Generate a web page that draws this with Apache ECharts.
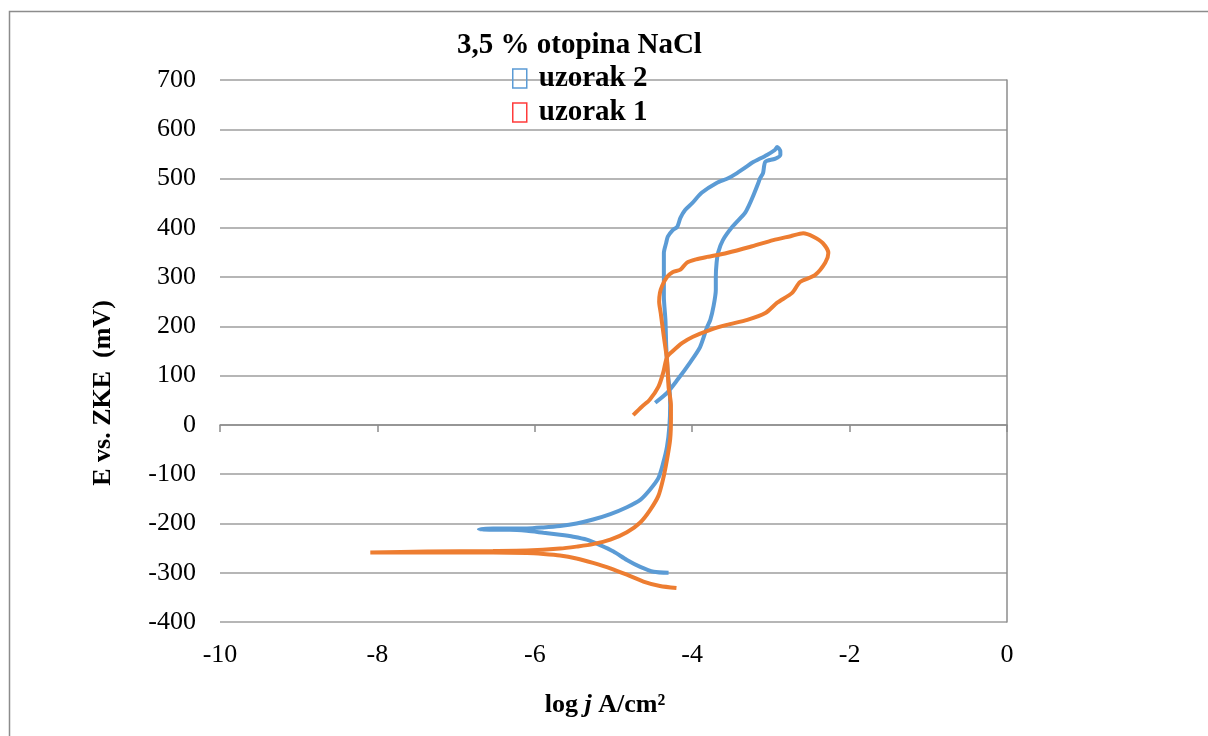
<!DOCTYPE html>
<html>
<head>
<meta charset="utf-8">
<script src="https://cdn.jsdelivr.net/npm/echarts@6/dist/echarts.min.js"></script>
<style>
html,body{margin:0;padding:0;background:#fff;}
#chart{width:1208px;height:736px;}
</style>
</head>
<body>
<div id="chart"></div>
<script>
// ---- data ----
const chartTitle = '3,5 % otopina NaCl';
const seriesNames = ['uzorak 2', 'uzorak 1'];
const xTicks = [-10, -8, -6, -4, -2, 0];
const yTicks = [-400, -300, -200, -100, 0, 100, 200, 300, 400, 500, 600, 700];

// uzorak 2 (blue): log j values
const logJ2 = [-4.30,-4.49,-4.66,-4.83,-5.00,-5.17,-5.34,-5.51,-5.68,-5.89,-6.10,-6.32,-6.53,-6.71,
  -6.53,-6.32,-6.10,-5.89,-5.68,-5.47,-5.26,-5.04,-4.83,-4.66,-4.54,-4.43,-4.37,-4.32,-4.29,
  -4.28,-4.29,-4.31,-4.33,-4.34,-4.36,-4.36,-4.36,-4.36,-4.33,-4.31,-4.25,-4.19,-4.15,-4.09,-4.00,-3.88,-3.69,-3.55,-3.43,-3.30,-3.24,-3.05,-2.95,-2.92,
  -2.88,-2.88,-2.95,-3.07,-3.10,-3.14,-3.16,-3.23,-3.28,-3.33,-3.49,-3.61,-3.67,-3.69,-3.70,-3.70,-3.73,-3.77,-3.81,-3.90,-4.03,-4.19,-4.32,-4.47];
// uzorak 2 (blue): E values (mV)
const E2 = [-300,-298,-288,-274,-257,-244,-233,-227,-223,-219,-215,-213,-213,-212,
  -210,-210,-210,-208,-205,-200,-192,-181,-167,-152,-132,-108,-78,-44,-3,
  40,77,105,160,213,260,294,330,349,370,382,395,402,420,436,450,471,491,500,511,525,532,548,558,564,
  555,548,540,534,511,500,491,463,445,430,402,375,350,329,300,274,240,213,199,158,126,91,65,45];

// uzorak 1 (orange): log j values
const logJ1 = [-4.20,-4.41,-4.62,-4.83,-5.04,-5.26,-5.47,-5.68,-5.89,-6.10,-6.53,-6.95,-7.37,-8.09,
  -7.37,-6.53,-6.10,-5.68,-5.47,-5.26,-5.04,-4.83,-4.66,-4.54,-4.43,-4.37,-4.32,-4.28,-4.27,
  -4.27,-4.30,-4.32,-4.36,-4.40,-4.42,-4.41,-4.38,-4.32,-4.25,-4.15,-4.07,-3.95,-3.81,-3.56,-3.27,-2.97,-2.75,-2.59,
  -2.46,-2.34,-2.27,-2.31,-2.44,-2.63,-2.73,-2.92,-3.07,-3.30,-3.56,-3.77,-3.99,-4.13,-4.26,-4.32,-4.37,-4.43,-4.54,-4.64,-4.75];
// uzorak 1 (orange): E values (mV)
const E1 = [-331,-327,-318,-304,-291,-280,-271,-265,-262,-260,-259,-259,-259,-259,
  -257,-256,-255,-251,-247,-242,-233,-218,-198,-174,-144,-110,-70,-29,12,
  40,77,132,179,227,250,268,283,300,310,315,329,336,341,349,361,375,383,389,
  382,369,349,329,304,290,268,248,227,213,203,193,179,166,148,138,105,77,51,37,20];

const zip = (xs, ys) => xs.map((x, i) => [x, ys[i]]);

const FONT = '"Liberation Serif", "Times New Roman", serif';
const chart = echarts.init(document.getElementById('chart'), null, {renderer: 'canvas'});

chart.setOption({
  animation: false,
  backgroundColor: '#fff',
  title: {
    text: chartTitle,
    left: 457, top: 31, padding: 0,
    textStyle: {fontFamily: FONT, fontWeight: 'bold', fontSize: 29, color: '#000'}
  },
  legend: {
    orient: 'vertical',
    left: 512, top: 64, padding: 0,
    itemWidth: 14, itemHeight: 19,
    itemGap: 5, itemTextGap: 12,
    icon: 'rect',
    textStyle: {fontFamily: FONT, fontWeight: 'bold', fontSize: 29, color: '#000', lineHeight: 29, padding: [0, 0, 0, 7]},
    data: [
      {name: seriesNames[0], itemStyle: {color: 'rgba(0,0,0,0)', borderColor: '#5b9bd5', borderWidth: 1.5}},
      {name: seriesNames[1], itemStyle: {color: 'rgba(0,0,0,0)', borderColor: '#ff3b3b', borderWidth: 1.5}}
    ]
  },
  grid: {left: 220, right: 201, top: 80, bottom: 114, containLabel: false},
  xAxis: [
    {
      type: 'value', min: xTicks[0], max: xTicks[xTicks.length - 1], interval: 2,
      position: 'bottom',
      axisLine: {show: false, onZero: false},
      axisTick: {show: false},
      splitLine: {show: false},
      axisLabel: {fontFamily: FONT, fontSize: 26, color: '#000', margin: 20}
    },
    {
      type: 'value', min: xTicks[0], max: xTicks[xTicks.length - 1], interval: 2,
      position: 'bottom',
      axisLine: {show: true, onZero: true, lineStyle: {color: '#8c8c8c', width: 1.5}},
      axisTick: {show: true, length: 7, lineStyle: {color: '#8c8c8c', width: 1.5}},
      splitLine: {show: false},
      axisLabel: {show: false}
    }
  ],
  yAxis: [
    {
      type: 'value', min: yTicks[0], max: yTicks[yTicks.length - 1], interval: 100,
      position: 'left',
      axisLine: {show: false},
      axisTick: {show: false},
      splitLine: {show: true, lineStyle: {color: '#9e9e9e', width: 1.5}},
      axisLabel: {fontFamily: FONT, fontSize: 26, color: '#000', margin: 24}
    },
    {
      type: 'value', min: yTicks[0], max: yTicks[yTicks.length - 1], interval: 100,
      position: 'right',
      axisLine: {show: true, lineStyle: {color: '#8c8c8c', width: 1.5}},
      axisTick: {show: false},
      splitLine: {show: false},
      axisLabel: {show: false}
    }
  ],
  graphic: [
    {
      type: 'rect', z: -1, silent: true,
      shape: {x: 9.5, y: 11.5, width: 1400, height: 1000},
      style: {fill: 'none', stroke: '#8c8c8c', lineWidth: 1.5}
    },
    {
      type: 'text', x: 103, y: 393, rotation: Math.PI / 2,
      style: {
        text: 'E vs. ZKE  (mV)', fontFamily: FONT, fontWeight: 'bold', fontSize: 26,
        fill: '#000', align: 'center', verticalAlign: 'middle'
      }
    },
    {
      type: 'text', x: 605, y: 705,
      style: {
        text: '{b|log }{i|j}{b| A/cm²}',
        align: 'center', verticalAlign: 'middle',
        rich: {
          b: {fontFamily: FONT, fontWeight: 'bold', fontSize: 26, fill: '#000'},
          i: {fontFamily: FONT, fontWeight: 'bold', fontStyle: 'italic', fontSize: 26, fill: '#000'}
        }
      }
    }
  ],
  series: [
    {
      name: seriesNames[0], type: 'line', xAxisIndex: 0, yAxisIndex: 0,
      data: zip(logJ2, E2), showSymbol: false, symbol: 'none', smooth: 0.25,
      lineStyle: {color: '#5b9bd5', width: 4}, itemStyle: {color: '#5b9bd5'}, z: 3
    },
    {
      name: seriesNames[1], type: 'line', xAxisIndex: 0, yAxisIndex: 0,
      data: zip(logJ1, E1), showSymbol: false, symbol: 'none', smooth: 0.25,
      lineStyle: {color: '#ed7d31', width: 4}, itemStyle: {color: '#ed7d31'}, z: 4
    }
  ]
});
</script>
</body>
</html>
